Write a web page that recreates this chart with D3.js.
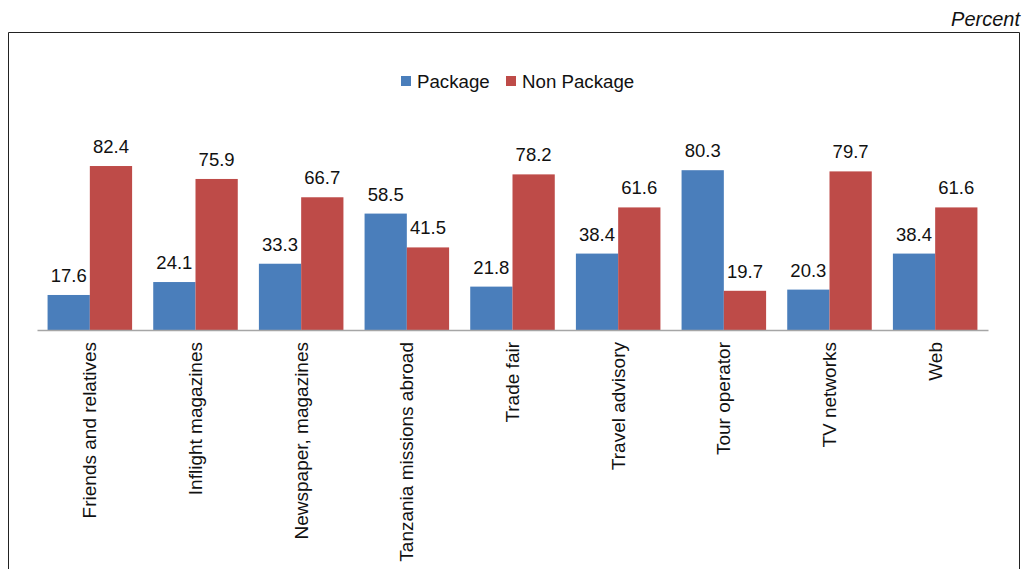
<!DOCTYPE html>
<html><head><meta charset="utf-8">
<script src="https://cdn.jsdelivr.net/npm/d3@7"></script>
<style>body{margin:0;background:#fff}svg{display:block}text{font-family:"Liberation Sans",Arial,Helvetica,sans-serif;fill:#111}</style>
</head><body><svg id="c" width="1024" height="569"></svg>
<script>
const categories = ["Friends and relatives","Inflight magazines","Newspaper, magazines","Tanzania missions abroad","Trade fair","Travel advisory","Tour operator","TV networks","Web"];
const seriesNames = ["Package","Non Package"];
const packageValues = [17.6,24.1,33.3,58.5,21.8,38.4,80.3,20.3,38.4];
const nonPackageValues = [82.4,75.9,66.7,41.5,78.2,61.6,19.7,79.7,61.6];
const colors = ["#4a7ebb","#be4b48"];

const svg = d3.select("#c");
// frame
svg.append("path").attr("d","M8.5,569 V32.5 H1019.5 V569").attr("fill","none").attr("stroke","#222").attr("stroke-width",1);
svg.append("text").attr("x",1020).attr("y",26).attr("text-anchor","end").attr("font-style","italic").attr("font-size",20).text("Percent");

const x0 = d3.scaleBand().domain(categories).range([37,988]).paddingInner(0.2).paddingOuter(0.1);
const x1 = d3.scaleBand().domain(seriesNames).range([0,x0.bandwidth()]);
const y = d3.scaleLinear().domain([0,100]).range([330,131]);

const data = categories.map((c,i)=>({cat:c,vals:[packageValues[i],nonPackageValues[i]]}));
const g = svg.append("g");
const grp = g.selectAll("g.grp").data(data).join("g").attr("transform",d=>`translate(${x0(d.cat)},0)`);
grp.selectAll("rect").data(d=>d.vals.map((v,j)=>({v,j}))).join("rect")
  .attr("x",d=>x1(seriesNames[d.j])).attr("width",x1.bandwidth())
  .attr("y",d=>y(d.v)).attr("height",d=>y(0)-y(d.v)).attr("fill",d=>colors[d.j]);
grp.selectAll("text.v").data(d=>d.vals.map((v,j)=>({v,j}))).join("text").attr("class","v")
  .attr("x",d=>x1(seriesNames[d.j])+x1.bandwidth()/2).attr("y",d=>y(d.v)-13)
  .attr("text-anchor","middle").attr("font-size",18.5).text(d=>d.v.toFixed(1));

// axis
const ax = svg.append("g").attr("transform","translate(0,330)").call(d3.axisBottom(x0).tickSize(0).tickSizeOuter(0));
ax.select(".domain").attr("stroke","#a6a6a6").attr("stroke-width",1.3);
ax.selectAll(".tick text").attr("font-size",19).attr("font-family",null)
  .attr("transform","rotate(-90)").attr("text-anchor","end").attr("x",-12).attr("y",0).attr("dy","0.35em").attr("fill","#111");

// legend
const leg = svg.append("g");
const legX = [401,506];
seriesNames.forEach((s,i)=>{
  leg.append("rect").attr("x",legX[i]).attr("y",76).attr("width",10).attr("height",10).attr("fill",colors[i]);
  leg.append("text").attr("x",legX[i]+16).attr("y",88).attr("font-size",18.7).text(s);
});
</script></body></html>
